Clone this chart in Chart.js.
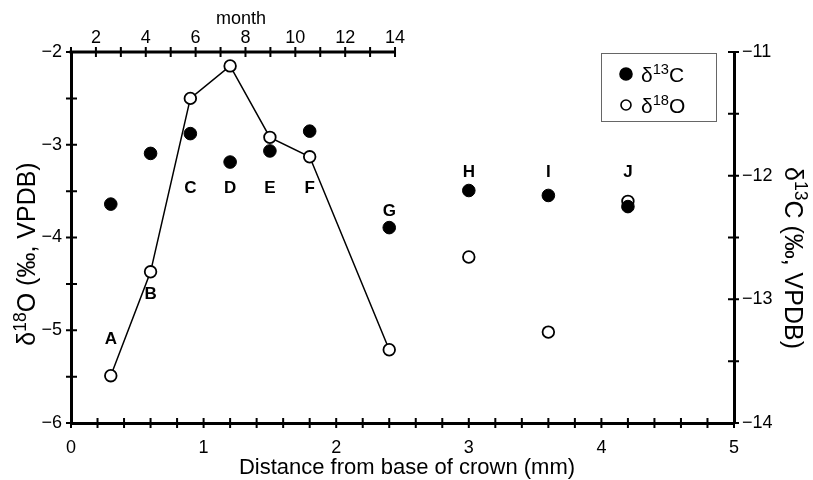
<!DOCTYPE html>
<html>
<head>
<meta charset="utf-8">
<script src="https://cdn.jsdelivr.net/npm/chart.js@4.4.1/dist/chart.umd.min.js"></script>
<style>
  html, body { margin: 0; padding: 0; background: #fff; }
  #wrap { width: 813px; height: 480px; }
</style>
</head>
<body>
<div id="wrap"><canvas id="isoChart" width="813" height="480"></canvas></div>
<script>
// samples along the crown
const sampleNames = ['A', 'B', 'C', 'D', 'E', 'F', 'G', 'H', 'I', 'J'];
const distance = [0.3, 0.6, 0.9, 1.2, 1.5, 1.8, 2.4, 3.0, 3.6, 4.2];
const d13C = [-12.23, -11.82, -11.66, -11.89, -11.80, -11.64, -12.42, -12.12, -12.16, -12.25];
const d18O = [-5.49, -4.37, -2.50, -2.15, -2.92, -3.13, -5.21, -4.21, -5.02, -3.61];
const joinedCount = 7; // only A..G are joined by the line
const monthLabels = [2, 4, 6, 8, 10, 12, 14];

const FONT = '"Liberation Sans", Arial, Helvetica, sans-serif';

// where the letter of each sample sits (in δ18O units)
const nameLevel = [-5.10, -4.61, -3.47, -3.47, -3.47, -3.47, -3.72, -3.30, -3.30, -3.30];

function isWhole(v) { return Math.abs(v - Math.round(v)) < 1e-6; }
function minus(v) { return v < 0 ? '\u2212' + Math.abs(v) : String(v); }

// text with superscript pieces, y is the baseline
function richText(ctx, parts, x, y, size, align) {
  let w = 0;
  parts.forEach(([t, sup]) => {
    ctx.font = (sup ? size * 0.7 : size) + 'px ' + FONT;
    w += ctx.measureText(t).width;
  });
  let cx = align === 'center' ? x - w / 2 : x;
  ctx.textAlign = 'left';
  ctx.textBaseline = 'alphabetic';
  parts.forEach(([t, sup]) => {
    ctx.font = (sup ? size * 0.7 : size) + 'px ' + FONT;
    ctx.fillText(t, cx, sup ? y - size * 0.38 : y);
    cx += ctx.measureText(t).width;
  });
}

const axisDecor = {
  id: 'axisDecor',
  afterDraw(chart) {
    const ctx = chart.ctx;
    const { x, xTop, yO, yC } = chart.scales;
    const area = chart.chartArea;
    ctx.save();
    ctx.strokeStyle = '#000';
    ctx.fillStyle = '#000';

    // top month axis only runs from month 1 to 14
    ctx.lineWidth = 3;
    ctx.beginPath();
    ctx.moveTo(xTop.getPixelForValue(1) - 1.5, area.top);
    ctx.lineTo(xTop.getPixelForValue(14), area.top);
    ctx.stroke();

    // tick marks crossing the axis lines
    ctx.lineWidth = 2;
    ctx.beginPath();
    x.ticks.forEach(t => {
      const px = x.getPixelForValue(t.value);
      ctx.moveTo(px, area.bottom - 5); ctx.lineTo(px, area.bottom + 5);
    });
    xTop.ticks.forEach(t => {
      if (t.value > 14.001) return;
      const px = xTop.getPixelForValue(t.value);
      ctx.moveTo(px, area.top - 5); ctx.lineTo(px, area.top + 5);
    });
    yO.ticks.forEach(t => {
      const py = yO.getPixelForValue(t.value);
      ctx.moveTo(area.left - 5, py); ctx.lineTo(area.left + 6, py);
    });
    yC.ticks.forEach(t => {
      const py = yC.getPixelForValue(t.value);
      ctx.moveTo(area.right - 6, py); ctx.lineTo(area.right + 5, py);
    });
    ctx.stroke();

    // sample letters
    ctx.font = 'bold 17px ' + FONT;
    ctx.textAlign = 'center';
    ctx.textBaseline = 'middle';
    sampleNames.forEach((n, i) => {
      ctx.fillText(n, x.getPixelForValue(distance[i]), yO.getPixelForValue(nameLevel[i]));
    });

    // axis titles
    ctx.textAlign = 'center';
    ctx.textBaseline = 'alphabetic';
    ctx.font = '22px ' + FONT;
    ctx.fillText('Distance from base of crown (mm)', 407, 474);
    ctx.font = '18px ' + FONT;
    ctx.fillText('month', 241, 24);

    ctx.save();
    ctx.translate(26, 254);
    ctx.rotate(-Math.PI / 2);
    richText(ctx, [['\u03b4'], ['18', true], ['O (\u2030, VPDB)']], 0, 9, 25, 'center');
    ctx.restore();

    ctx.save();
    ctx.translate(794, 258);
    ctx.rotate(Math.PI / 2);
    richText(ctx, [['\u03b4'], ['13', true], ['C (\u2030, VPDB)']], 0, 9, 25, 'center');
    ctx.restore();

    // legend box
    ctx.lineWidth = 1;
    ctx.strokeStyle = '#666';
    ctx.strokeRect(601.5, 53.5, 115, 68);
    const rows = [[74, 0, '13', 'C'], [105, 1, '18', 'O']];
    rows.forEach(([ry, di, sup, tail]) => {
      const ds = chart.data.datasets[di];
      ctx.beginPath();
      ctx.arc(626, ry, di === 0 ? 6 : 5, 0, Math.PI * 2);
      ctx.fillStyle = ds.pointBackgroundColor;
      ctx.fill();
      ctx.lineWidth = 1.6;
      ctx.strokeStyle = '#000';
      ctx.stroke();
      ctx.fillStyle = '#000';
      richText(ctx, [['\u03b4'], [sup, true], [tail]], 641, ry + 8, 21, 'left');
    });
    ctx.restore();
  }
};

const canvas = document.getElementById('isoChart');
const tickFont = { family: FONT, size: 18 };

new Chart(canvas, {
  type: 'scatter',
  data: {
    datasets: [
      {
        label: '\u03b413C',
        data: distance.map((d, i) => ({ x: d, y: d13C[i] })),
        xAxisID: 'x',
        yAxisID: 'yC',
        showLine: false,
        pointRadius: 6.3,
        pointBackgroundColor: '#000',
        pointBorderColor: '#000',
        pointBorderWidth: 1
      },
      {
        label: '\u03b418O',
        data: distance.map((d, i) => ({ x: d, y: d18O[i] })),
        xAxisID: 'x',
        yAxisID: 'yO',
        showLine: true,
        borderColor: '#000',
        borderWidth: 1.5,
        pointRadius: 5.8,
        pointBackgroundColor: '#fff',
        pointBorderColor: '#000',
        pointBorderWidth: 1.8,
        segment: {
          borderColor: c => (c.p1DataIndex < joinedCount ? '#000' : 'rgba(0,0,0,0)')
        }
      }
    ]
  },
  options: {
    responsive: false,
    animation: false,
    layout: { padding: 0 },
    plugins: { legend: { display: false }, tooltip: { enabled: false } },
    scales: {
      x: {
        type: 'linear',
        position: 'bottom',
        min: 0,
        max: 5,
        grid: { display: false, drawTicks: false },
        border: { display: true, color: '#000', width: 3 },
        ticks: {
          stepSize: 0.2,
          autoSkip: false,
          maxRotation: 0,
          padding: 14,
          color: '#000',
          font: tickFont,
          callback: v => (isWhole(v) ? String(Math.round(v)) : '')
        },
        afterFit: s => { s.height = 57; }
      },
      xTop: {
        type: 'linear',
        position: 'top',
        min: 1,
        max: 27.6,
        grid: { display: false, drawTicks: false },
        border: { display: false },
        ticks: {
          stepSize: 1,
          autoSkip: false,
          maxRotation: 0,
          padding: 3,
          color: '#000',
          font: tickFont,
          callback: v => (monthLabels.includes(Math.round(v)) && isWhole(v) ? String(Math.round(v)) : '')
        },
        afterFit: s => { s.height = 52; }
      },
      yO: {
        type: 'linear',
        position: 'left',
        min: -6,
        max: -2,
        grid: { display: false, drawTicks: false },
        border: { display: true, color: '#000', width: 3 },
        ticks: {
          stepSize: 0.5,
          autoSkip: false,
          padding: 9,
          color: '#000',
          font: tickFont,
          callback: v => (isWhole(v) ? minus(Math.round(v)) : '')
        },
        afterFit: s => { s.width = 71; }
      },
      yC: {
        type: 'linear',
        position: 'right',
        min: -14,
        max: -11,
        grid: { display: false, drawTicks: false },
        border: { display: true, color: '#000', width: 3 },
        ticks: {
          stepSize: 0.5,
          autoSkip: false,
          padding: 8,
          color: '#000',
          font: tickFont,
          callback: v => (isWhole(v) ? minus(Math.round(v)) : '')
        },
        afterFit: s => { s.width = 79; }
      }
    }
  },
  plugins: [axisDecor]
});
</script>
</body>
</html>
